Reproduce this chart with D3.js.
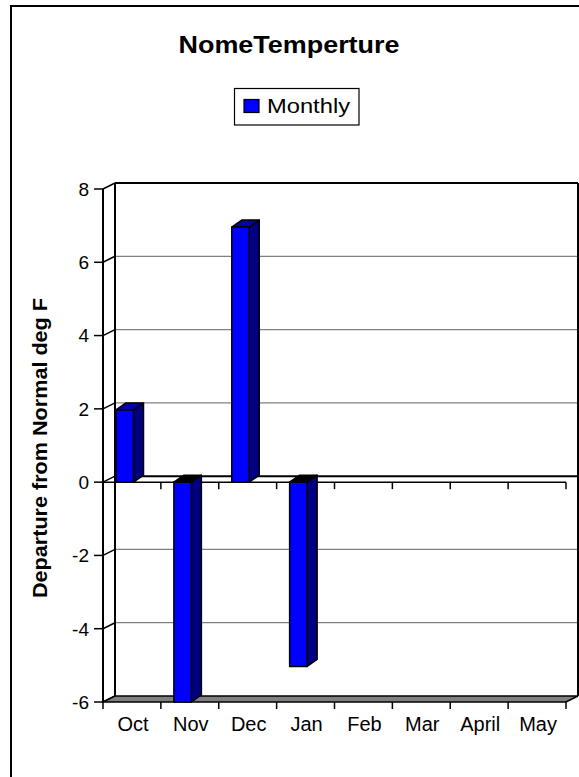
<!DOCTYPE html>
<html><head><meta charset="utf-8">
<script src="https://cdn.jsdelivr.net/npm/d3@7"></script>
<style>html,body{margin:0;padding:0;background:#fff;}svg{display:block;}</style>
</head><body>
<script>
const categories = ["Oct","Nov","Dec","Jan","Feb","Mar","April","May"];
const monthly = [1.97, -6, 6.96, -5.03, null, null, null, null];
const yTicks = [-6,-4,-2,0,2,4,6,8];
const titleText = "NomeTemperture";
const seriesName = "Monthly";
const yTitle = "Departure from Normal deg F";

const W = 579, H = 777;
const svg = d3.select("body").append("svg").attr("width", W).attr("height", H);
const font = "'Liberation Sans', Arial, sans-serif";

// outer frame
svg.append("rect").attr("x",11).attr("y",6).attr("width",700).attr("height",900)
  .attr("fill","#fff").attr("stroke","#000").attr("stroke-width",2);

const y = d3.scaleLinear().domain([-6, 8]).range([702, 189]);
const x = d3.scaleBand().domain(categories).range([103, 566]);
const DX = 12, DY = -6;       // wall depth
const bDX = 10, bDY = -7;     // bar depth
const x0 = 103, x1 = 566;

// back wall
svg.append("rect").attr("x", x0+DX).attr("y", y(8)+DY).attr("width", x1-x0).attr("height", y(-6)-y(8))
  .attr("fill","#fff");
// gridlines on back wall
svg.selectAll(".grid").data(yTicks.filter(v => v!==8 && v!==-6 && v!==0)).join("line")
  .attr("x1", x0+DX).attr("x2", x1+DX).attr("y1", d=>y(d)+DY).attr("y2", d=>y(d)+DY)
  .attr("stroke","#808080").attr("stroke-width",1.2);
// left wall diagonals
svg.selectAll(".ldiag").data(yTicks).join("line")
  .attr("x1", x0).attr("y1", d=>y(d)).attr("x2", x0+DX).attr("y2", d=>y(d)+DY)
  .attr("stroke","#000").attr("stroke-width",1.5);
// back wall borders
const g = svg.append("g").attr("stroke","#000").attr("stroke-width",2).attr("fill","none");
g.append("line").attr("x1",x0+DX).attr("x2",x1+DX).attr("y1",y(8)+DY).attr("y2",y(8)+DY);
g.append("line").attr("x1",x1+DX).attr("x2",x1+DX).attr("y1",y(8)+DY).attr("y2",y(-6)+DY);
g.append("line").attr("x1",x0+DX).attr("x2",x0+DX).attr("y1",y(8)+DY).attr("y2",y(-6)+DY);
// zero line on back wall
g.append("line").attr("x1",x0+DX).attr("x2",x1+DX).attr("y1",y(0)+DY).attr("y2",y(0)+DY);
// floor
svg.append("path")
  .attr("d", `M${x0},${y(-6)}L${x1},${y(-6)}L${x1+DX},${y(-6)+DY}L${x0+DX},${y(-6)+DY}Z`)
  .attr("fill","#808080").attr("stroke","#000").attr("stroke-width",1.5);
// zero front line with ticks
svg.append("line").attr("x1",x0).attr("x2",x1).attr("y1",y(0)).attr("y2",y(0))
  .attr("stroke","#000").attr("stroke-width",1.5);
const bounds = categories.map(c => x(c)).concat([x1]);
svg.selectAll(".zt").data(bounds.slice(1)).join("line")
  .attr("x1",d=>d).attr("x2",d=>d).attr("y1",y(0)).attr("y2",y(0)+7)
  .attr("stroke","#000").attr("stroke-width",1.5);

// bars
const bw = 17.5, boff = 13;
const bars = svg.append("g");
categories.forEach((c, i) => {
  const v = monthly[i];
  if (v === null) return;
  const bx = x(c) + boff;
  const yz = y(0), yv = y(v);
  const top = Math.min(yz, yv), bot = Math.max(yz, yv);
  const gb = bars.append("g").attr("stroke","#000").attr("stroke-width",1.5).attr("stroke-linejoin","round");
  gb.append("path").attr("d", `M${bx+bw},${top}L${bx+bw+bDX},${top+bDY}L${bx+bw+bDX},${bot+bDY}L${bx+bw},${bot}Z`)
    .attr("fill","#000080");
  gb.append("path").attr("d", `M${bx},${top}L${bx+bDX},${top+bDY}L${bx+bw+bDX},${top+bDY}L${bx+bw},${top}Z`)
    .attr("fill", v >= 0 ? "#0000B0" : "#000000");
  gb.append("rect").attr("x",bx).attr("y",top).attr("width",bw).attr("height",bot-top)
    .attr("fill","#0000FF");
});

// front y axis
svg.append("line").attr("x1",x0).attr("x2",x0).attr("y1",y(8)).attr("y2",y(-6))
  .attr("stroke","#000").attr("stroke-width",2);
svg.selectAll(".yt").data(yTicks).join("line")
  .attr("x1",x0-9).attr("x2",x0).attr("y1",d=>y(d)).attr("y2",d=>y(d))
  .attr("stroke","#000").attr("stroke-width",1.5);
svg.selectAll(".yl").data(yTicks).join("text")
  .attr("x",x0-14).attr("y",d=>y(d)).attr("dy","0.36em").attr("text-anchor","end")
  .attr("font-family",font).attr("font-size",19).text(d=>d);
// bottom ticks
svg.selectAll(".xt").data(bounds).join("line")
  .attr("x1",d=>d).attr("x2",d=>d).attr("y1",y(-6)).attr("y2",y(-6)+7)
  .attr("stroke","#000").attr("stroke-width",1.5);
svg.selectAll(".xl").data(categories).join("text")
  .attr("x",d=>x(d)+x.bandwidth()/2+1).attr("y",731).attr("text-anchor","middle")
  .attr("font-family",font).attr("font-size",20).text(d=>d);

// title
svg.append("text").attr("x",289).attr("y",53).attr("text-anchor","middle")
  .attr("font-family",font).attr("font-weight","bold").attr("font-size",23)
  .attr("textLength",221).attr("lengthAdjust","spacingAndGlyphs").text(titleText);

// legend
svg.append("rect").attr("x",234.5).attr("y",88.5).attr("width",124.5).attr("height",36.5)
  .attr("fill","#fff").attr("stroke","#000").attr("stroke-width",1.2);
svg.append("rect").attr("x",244).attr("y",99.5).attr("width",15).attr("height",13)
  .attr("fill","#0000FF").attr("stroke","#000").attr("stroke-width",1.2);
svg.append("text").attr("x",267).attr("y",113)
  .attr("font-family",font).attr("font-size",21).attr("textLength",83).attr("lengthAdjust","spacingAndGlyphs")
  .text(seriesName);

// y title
svg.append("text").attr("transform","translate(47,448) rotate(-90)").attr("text-anchor","middle")
  .attr("font-family",font).attr("font-weight","bold").attr("font-size",20)
  .attr("textLength",300).attr("lengthAdjust","spacingAndGlyphs").text(yTitle);
</script>
</body></html>
